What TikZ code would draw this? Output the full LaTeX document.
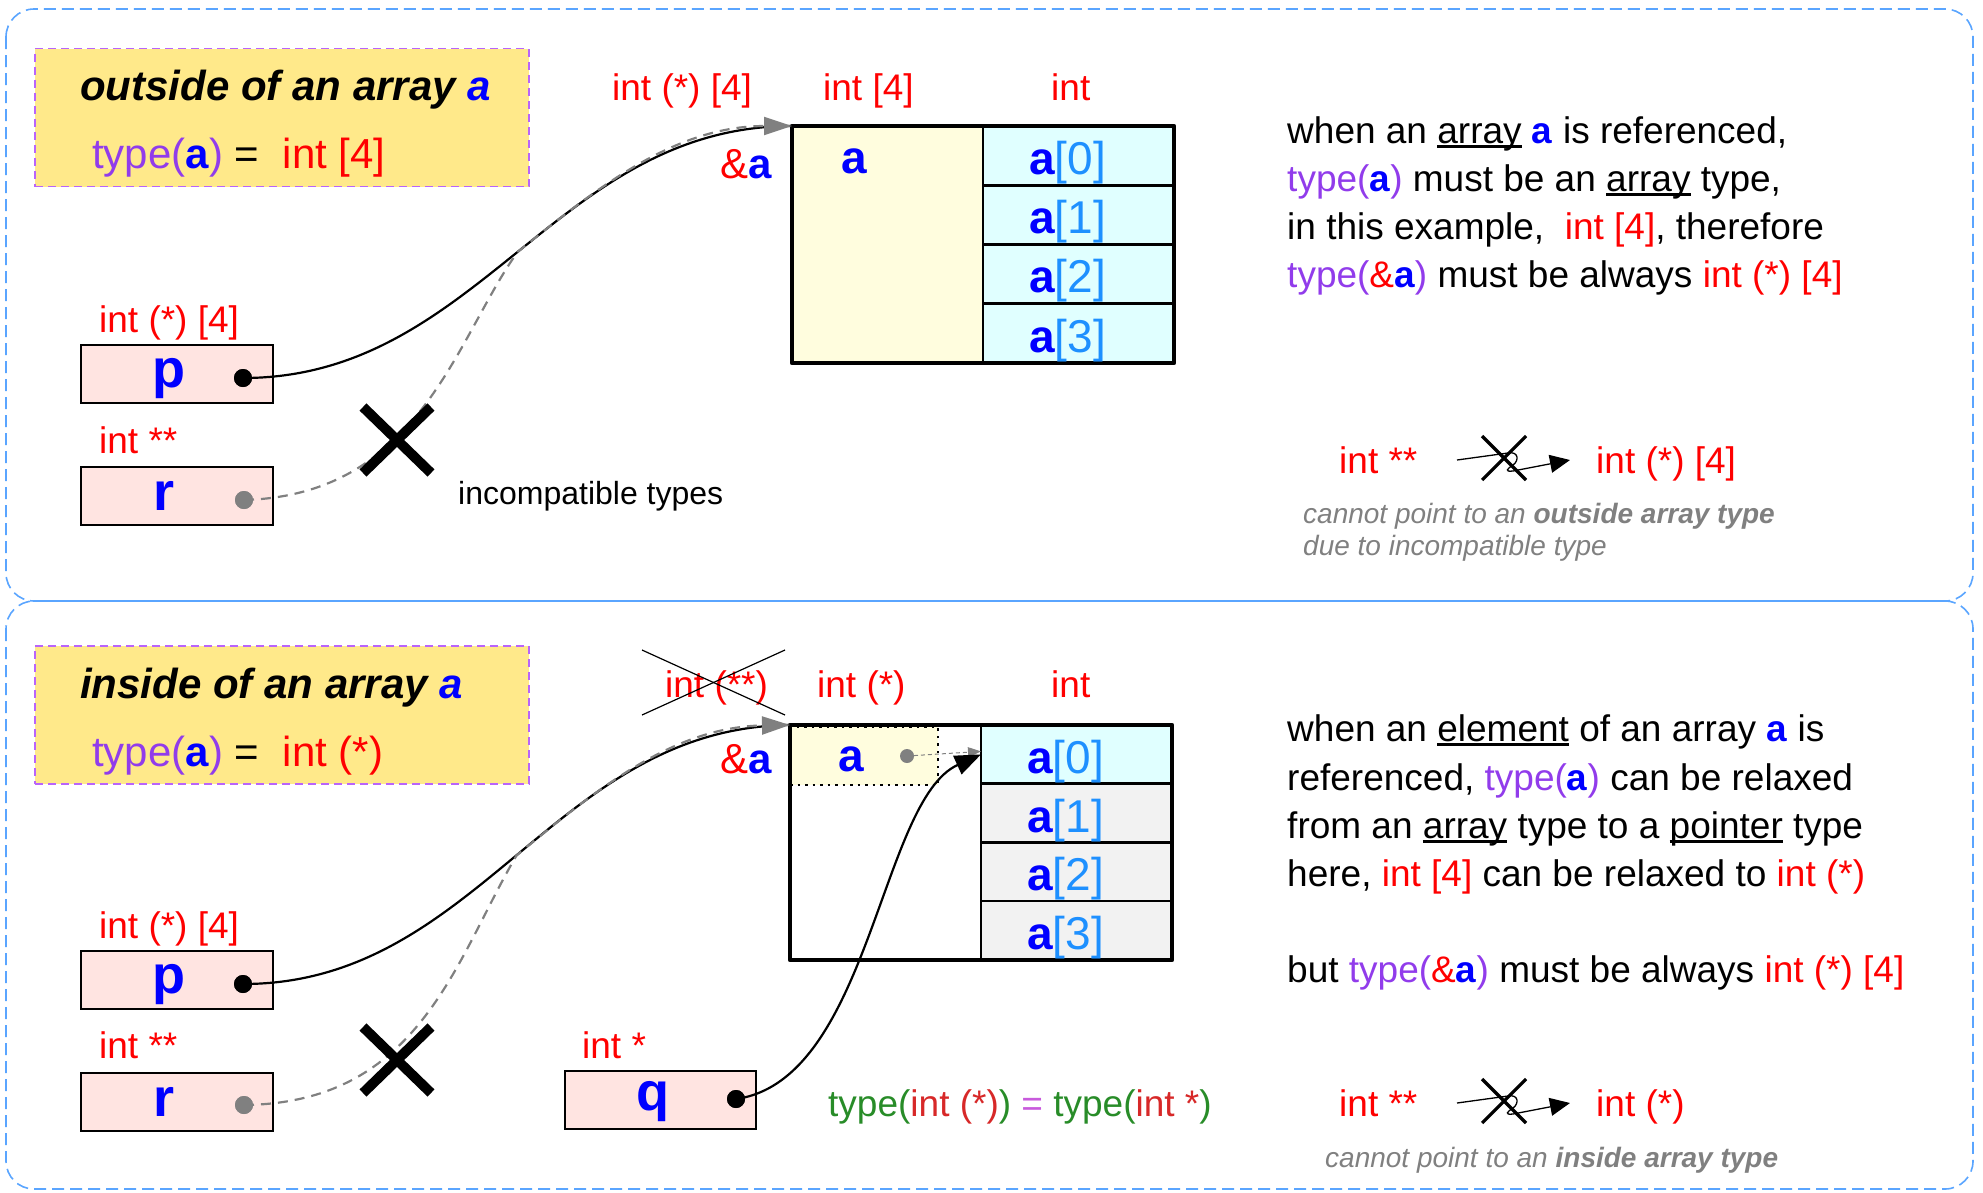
\documentclass[tikz,border=0pt]{standalone}
\usepackage{fontspec}
\setmainfont{Liberation Sans}
\usetikzlibrary{arrows.meta}
\definecolor{tred}{RGB}{255,0,0}
\definecolor{tblue}{RGB}{0,0,255}
\definecolor{tpurple}{RGB}{145,60,235}
\definecolor{tidx}{RGB}{30,144,255}
\definecolor{tgreen}{RGB}{40,140,40}
\definecolor{teq}{RGB}{200,90,220}
\definecolor{tdred}{RGB}{215,40,40}
\definecolor{panelblue}{RGB}{90,165,255}
\definecolor{titlefill}{RGB}{255,233,138}
\definecolor{titleedge}{RGB}{185,100,250}
\definecolor{ptrfill}{RGB}{255,228,225}
\definecolor{arrfill}{RGB}{255,253,222}
\definecolor{cellcyan}{RGB}{224,255,255}
\definecolor{cellgray}{RGB}{242,242,242}
\definecolor{notegray}{RGB}{128,128,128}
\newsavebox\myulbox
\newcommand\myul[1]{\sbox\myulbox{#1}\rlap{\rule[-0.12em]{\wd\myulbox}{0.07em}}\usebox\myulbox}
\newcommand\mytype[1]{\textcolor{tpurple}{type(}#1\textcolor{tpurple}{)}}
\newcommand\myba{\textcolor{tblue}{\textbf{a}}}
\newcommand\myred[1]{\textcolor{tred}{#1}}
\newcommand\myamp{\textcolor{tred}{\&}\myba}
\begin{document}
\begin{tikzpicture}[x=1pt,y=1pt,
  panel/.style={draw=panelblue, dash pattern=on 12pt off 6pt, line width=1.6pt, rounded corners=28pt},
  titlebox/.style={draw=titleedge, dash pattern=on 8pt off 5pt, line width=1.5pt, fill=titlefill, minimum width=494pt, minimum height=138pt, inner sep=0pt},
  ttl/.style={anchor=west, inner sep=0pt, text depth=0pt, font=\fontsize{42}{50}\selectfont},
  lbl/.style={anchor=west, inner sep=0pt, text depth=0pt, text=tred, font=\fontsize{37}{44}\selectfont},
  para/.style={anchor=west, inner sep=0pt, text depth=0pt, font=\fontsize{37}{44}\selectfont},
  note/.style={anchor=west, inner sep=0pt, text depth=0pt, text=notegray, font=\fontsize{28}{34}\selectfont\itshape},
  ptrbox/.style={draw=black, line width=2pt, fill=ptrfill, minimum width=192pt, minimum height=58pt, inner sep=0pt},
  ptrtxt/.style={inner sep=0pt, text=tblue, font=\fontsize{54}{60}\selectfont\bfseries},
  dot/.style={circle, fill=black, minimum size=18pt, inner sep=0pt},
  gdot/.style={dot, fill=notegray},
  cell/.style={draw=black, line width=2.5pt, minimum width=191pt, inner sep=0pt, outer sep=0pt},
  arrtxt/.style={inner sep=0pt, font=\fontsize{46}{52}\selectfont},
  amp/.style={inner sep=0pt, font=\fontsize{42}{50}\selectfont},
  bigx/.style={line width=10pt},
  ptrline/.style={line width=2.2pt},
  dashline/.style={draw=notegray, line width=2.2pt, dash pattern=on 10pt off 7pt, -{Triangle[length=28pt,width=18pt]}},
  qline/.style={line width=2.2pt, -{Triangle[length=26pt,width=20pt]}},
  iconline/.style={line width=1.3pt},
  iconx/.style={line width=3.2pt}
]
\useasboundingbox (0,0) rectangle (1983,-1192);

% panels
\draw[panel] (6,-9) rectangle (1973,-601);
\draw[panel] (6,-601) rectangle (1973,-1189);

%% ================= TOP PANEL =================
\node[titlebox] (tbox1) at (282,-117.5) {};
\node[ttl] (ttl1) at (80,-85) {\textbf{\textit{outside of an array \textcolor{tblue}{a}}}};
\node[ttl] (typ1) at (92,-153) {\mytype{\myba} = \ \myred{int [4]}};

\node[lbl] (lA1) at (612,-87) {int (*) [4]};
\node[lbl] (lB1) at (823,-87) {int [4]};
\node[lbl] (lC1) at (1051,-87) {int};

\node[cell, fill=arrfill, minimum height=237pt] (aL1) at (887.5,-244.5) {};
\node[cell, fill=cellcyan, minimum height=59.25pt] (c0t) at (1078.5,-155.6) {};
\node[cell, fill=cellcyan, minimum height=59.25pt] (c1t) at (1078.5,-214.9) {};
\node[cell, fill=cellcyan, minimum height=59.25pt] (c2t) at (1078.5,-274.1) {};
\node[cell, fill=cellcyan, minimum height=59.25pt] (c3t) at (1078.5,-333.4) {};
\draw[line width=4.5pt, line join=round] (aL1.north west) rectangle (c3t.south east);
\node[arrtxt, text=tblue, font=\fontsize{46}{52}\selectfont\bfseries] (at1) at (854,-161) {a};
\node[arrtxt] (t0t) at ([shift={(-11,-7)}]c0t.center) {\myba\textcolor{tidx}{[0]}};
\node[arrtxt] (t1t) at ([shift={(-11,-7)}]c1t.center) {\myba\textcolor{tidx}{[1]}};
\node[arrtxt] (t2t) at ([shift={(-11,-7)}]c2t.center) {\myba\textcolor{tidx}{[2]}};
\node[arrtxt] (t3t) at ([shift={(-11,-7)}]c3t.center) {\myba\textcolor{tidx}{[3]}};
\node[amp] (amp1) at (746,-164) {\myamp};

\node[ptrbox] (pbox1) at (177,-374) {};
\node[ptrbox] (rbox1) at (177,-496) {};
\node[ptrtxt] (ptx1) at ([shift={(-8,-5)}]pbox1.center) {p};
\node[ptrtxt] (rtx1) at ([xshift=-13]rbox1.center) {r};
\node[lbl] (lp1) at (99,-319) {int (*) [4]};
\node[lbl] (lr1) at (99,-440) {int **};

\coordinate (m1) at (517.5,-252);
\node[dot] (pdot1) at (243,-378) {};
\node[gdot] (rdot1) at (244,-500) {};
\draw[ptrline] (pdot1.center) .. controls (479,-378) and (556,-126) .. (aL1.north west);
\draw[dashline] (rdot1.center) .. controls (420,-495) and (455,-340) .. (m1) .. controls (595.75,-189) and (674,-126) .. (aL1.north west);
\node[dot] at (pdot1) {};
\node[gdot] at (rdot1) {};

\coordinate (x1) at (397,-440);
\draw[bigx] ([shift={(-34,33)}]x1) -- ([shift={(34,-33)}]x1);
\draw[bigx] ([shift={(34,33)}]x1) -- ([shift={(-34,-33)}]x1);
\node[anchor=west, inner sep=0pt, text depth=0pt, font=\fontsize{32}{38}\selectfont] (inc1) at (458,-493) {incompatible types};

\node[para] (pa1) at (1287,-130) {when an \myul{array} \myba{} is referenced,};
\node[para] (pa2) at (1287,-178) {\mytype{\myba} must be an \myul{array} type,};
\node[para] (pa3) at (1287,-226) {in this example, \ \myred{int [4]}, therefore};
\node[para] (pa4) at (1287,-274) {\mytype{\myamp} must be always \myred{int (*) [4]}};

\node[lbl] (n1a) at (1339,-460) {int **};
\begin{scope}[shift={(1457,-463)}]
  \draw[iconline, -{Triangle[length=20pt,width=18pt]}] (0,3) -- (51,10) .. controls (62,12) and (62,2) .. (56,-2) .. controls (50,-6) and (47,-9) .. (56,-8) -- (113,3);
  \draw[iconx] (25,27) -- (69,-17);
  \draw[iconx] (69,27) -- (25,-17);
\end{scope}
\node[lbl] (n1b) at (1596,-460) {int (*) [4]};
\node[note] (nt1) at (1303,-513) {cannot point to an \textbf{outside array type}};
\node[note] (nt2) at (1303,-545) {due to incompatible type};

%% ================= BOTTOM PANEL =================
\node[titlebox] (tbox2) at (282,-715) {};
\node[ttl] (ttl2) at (80,-683) {\textbf{\textit{inside of an array \textcolor{tblue}{a}}}};
\node[ttl] (typ2) at (92,-751) {\mytype{\myba} = \ \myred{int (*)}};

\node[lbl] (lA2) at (665,-684) {int (**)};
\draw[line width=1.2pt] (642,-650) -- (785,-715);
\draw[line width=1.2pt] (642,-715) -- (785,-650);
\node[lbl] (lB2) at (817,-684) {int (*)};
\node[lbl] (lC2) at (1051,-684) {int};

\node[cell, fill=white, minimum height=235pt] (aL2) at (885.5,-842.5) {};
\node[cell, fill=cellcyan, minimum height=58.75pt] (c0b) at (1076.5,-754.4) {};
\node[cell, fill=cellgray, minimum height=58.75pt] (c1b) at (1076.5,-813.1) {};
\node[cell, fill=cellgray, minimum height=58.75pt] (c2b) at (1076.5,-871.9) {};
\node[cell, fill=cellgray, minimum height=58.75pt] (c3b) at (1076.5,-930.6) {};
\node[fill=arrfill, draw=black, line width=2.5pt, dash pattern=on 2.5pt off 5pt, minimum width=148pt, minimum height=58pt, inner sep=0pt] (asub) at (864,-756) {};
\draw[line width=4.5pt, line join=round] (aL2.north west) rectangle (c3b.south east);
\node[arrtxt, text=tblue, font=\fontsize{46}{52}\selectfont\bfseries] (at2) at (851,-759) {a};
\node[arrtxt] (t0b) at ([shift={(-11,-7)}]c0b.center) {\myba\textcolor{tidx}{[0]}};
\node[arrtxt] (t1b) at ([shift={(-11,-7)}]c1b.center) {\myba\textcolor{tidx}{[1]}};
\node[arrtxt] (t2b) at ([shift={(-11,-7)}]c2b.center) {\myba\textcolor{tidx}{[2]}};
\node[arrtxt] (t3b) at ([shift={(-11,-7)}]c3b.center) {\myba\textcolor{tidx}{[3]}};
\node[amp] (amp2) at (746,-759) {\myamp};

\node[gdot, minimum size=14pt] (adot) at (907,-756) {};
\draw[notegray, line width=1pt, dash pattern=on 4pt off 3pt, -{Triangle[length=13pt,width=10pt]}] (adot.center) -- ([yshift=3]c0b.west);

\node[ptrbox] (pbox2) at (177,-980) {};
\node[ptrbox] (rbox2) at (177,-1101.5) {};
\node[ptrbox, minimum width=191pt] (qbox) at (660.5,-1100) {};
\node[ptrtxt] (ptx2) at ([shift={(-8,-5)}]pbox2.center) {p};
\node[ptrtxt] (rtx2) at ([xshift=-13]rbox2.center) {r};
\node[ptrtxt] (qtx) at ([shift={(-8,-2)}]qbox.center) {q};
\node[lbl] (lp2) at (99,-925) {int (*) [4]};
\node[lbl] (lr2) at (99,-1045) {int **};
\node[lbl] (lq) at (582,-1045) {int *};

\coordinate (m2) at (516.5,-855.5);
\node[dot] (pdot2) at (243,-984) {};
\node[gdot] (rdot2) at (244,-1105) {};
\node[dot] (qdot) at (736,-1099) {};
\draw[ptrline] (pdot2.center) .. controls (479,-984) and (554,-727) .. (aL2.north west);
\draw[dashline] (rdot2.center) .. controls (420,-1103) and (455,-960) .. (m2) .. controls (594.25,-791.25) and (672,-727) .. (aL2.north west);
\draw[qline] (qdot.center) .. controls (870,-1080) and (880,-800) .. (c0b.west);
\node[dot] at (pdot2) {};
\node[gdot] at (rdot2) {};
\node[dot] at (qdot) {};

\coordinate (x2) at (397,-1060);
\draw[bigx] ([shift={(-34,33)}]x2) -- ([shift={(34,-33)}]x2);
\draw[bigx] ([shift={(34,33)}]x2) -- ([shift={(-34,-33)}]x2);

\node[para] (eqn) at (828,-1103) {\textcolor{tgreen}{type(}\textcolor{tdred}{int (*)}\textcolor{tgreen}{)} \textcolor{teq}{=} \textcolor{tgreen}{type(}\textcolor{tdred}{int *}\textcolor{tgreen}{)}};

\node[para] (pb1) at (1287,-728) {when an \myul{element} of an array \myba{} is};
\node[para] (pb2) at (1287,-777) {referenced, \mytype{\myba} can be relaxed};
\node[para] (pb3) at (1287,-825) {from an \myul{array} type to a \myul{pointer} type};
\node[para] (pb4) at (1287,-873) {here, \myred{int [4]} can be relaxed to \myred{int (*)}};
\node[para] (pb5) at (1287,-969) {but \mytype{\myamp} must be always \myred{int (*) [4]}};

\node[lbl] (n2a) at (1339,-1103) {int **};
\begin{scope}[shift={(1457,-1106)}]
  \draw[iconline, -{Triangle[length=20pt,width=18pt]}] (0,3) -- (51,10) .. controls (62,12) and (62,2) .. (56,-2) .. controls (50,-6) and (47,-9) .. (56,-8) -- (113,3);
  \draw[iconx] (25,27) -- (69,-17);
  \draw[iconx] (69,27) -- (25,-17);
\end{scope}
\node[lbl] (n2b) at (1596,-1103) {int (*)};
\node[note] (nt3) at (1325,-1157) {cannot point to an \textbf{inside array type}};
\end{tikzpicture}
\end{document}
